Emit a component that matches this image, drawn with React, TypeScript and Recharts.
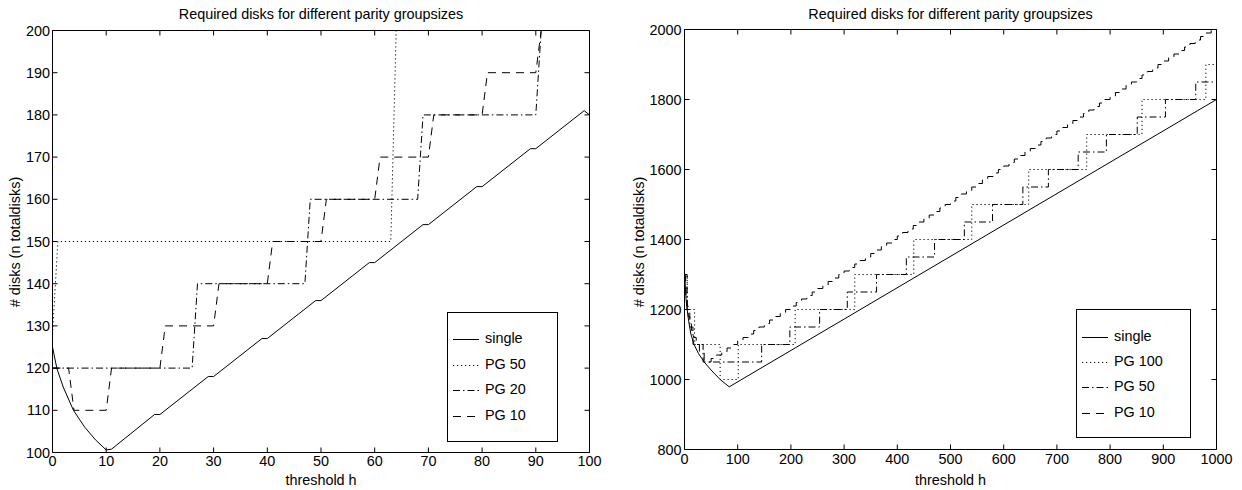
import { LineChart, Line, XAxis, YAxis } from "recharts";

const FONT = "'Liberation Sans', Arial, Helvetica, sans-serif";
const FS = 14.4;

const TITLE = "Required disks for different parity groupsizes";
const X_LABEL = "threshold h";
const Y_LABEL = "# disks (n totaldisks)";

// ---- left panel (h 0..100) ----
const leftXTicks = [0, 10, 20, 30, 40, 50, 60, 70, 80, 90, 100];
const leftYTicks = [100, 110, 120, 130, 140, 150, 160, 170, 180, 190, 200];

const leftSingleH = [0, 0.8, 2, 3.9, 6, 8, 10, 11, 19, 20, 29, 30, 39, 40, 49, 50, 59, 60, 69, 70, 79, 80, 89, 90, 99, 100];
const leftSingleN = [125, 120, 115.5, 110, 106, 103, 100.6, 100.8, 109, 109, 118, 118, 127, 127, 136, 136, 145, 145, 154, 154, 163, 163, 172, 172, 181, 180];

const leftPg50H = [0, 1, 63, 64, 100];
const leftPg50N = [128, 150, 150, 200, 200];

const leftPg20H = [0, 26, 27, 47, 48, 68, 69, 90, 91, 100];
const leftPg20N = [120, 120, 140, 140, 160, 160, 180, 180, 200, 200];

const leftPg10H = [0, 3, 4, 10, 11, 20, 21, 30, 31, 40, 41, 50, 51, 60, 61, 70, 71, 80, 81, 90, 91, 100];
const leftPg10N = [120, 120, 110, 110, 120, 120, 130, 130, 140, 140, 150, 150, 160, 160, 170, 170, 180, 180, 190, 190, 200, 200];

// ---- right panel (h 0..1000) ----
const rightXTicks = [0, 100, 200, 300, 400, 500, 600, 700, 800, 900, 1000];
const rightYTicks = [800, 1000, 1200, 1400, 1600, 1800, 2000];

const rightSingleH = [1, 2, 3, 5, 8, 12, 18, 26, 37, 50, 67, 84, 1000];
const rightSingleN = [1285, 1250, 1228, 1200, 1165, 1130, 1100, 1075, 1050, 1027, 1000, 979, 1800];

const rightPg100H = [0, 5, 19, 67, 101, 208, 320, 431, 540, 647, 756, 860, 980, 1000];
const rightPg100N = [1300, 1200, 1100, 1000, 1100, 1200, 1300, 1400, 1500, 1600, 1700, 1800, 1900, 1900];

const rightPg50H = [0, 5, 10, 16, 35, 145, 198, 254, 306, 361, 417, 470, 526, 579, 636, 684, 740, 793, 851, 904, 961, 1000];
const rightPg50N = [1300, 1200, 1150, 1100, 1050, 1100, 1150, 1200, 1250, 1300, 1350, 1400, 1450, 1500, 1550, 1600, 1650, 1700, 1750, 1800, 1850, 1850];

const rightPg10H = [
  0, 2, 3, 5, 7, 10, 13, 17, 22, 28, 37,
  50, 60, 70, 80, 90, 100, 110, 120, 130, 140, 150, 160, 170, 180, 190, 200,
  210, 220, 230, 240, 250, 260, 270, 280, 290, 300, 310, 320, 330, 340, 350,
  360, 370, 380, 390, 400, 410, 420, 430, 440, 450, 460, 470, 480, 490, 500,
  510, 520, 530, 540, 550, 560, 570, 580, 590, 600, 610, 620, 630, 640, 650,
  660, 670, 680, 690, 700, 710, 720, 730, 740, 750, 760, 770, 780, 790, 800,
  810, 820, 830, 840, 850, 860, 870, 880, 890, 900, 910, 920, 930, 940, 950,
  960, 970, 980, 990, 1000,
];
const rightPg10N = [
  1300, 1270, 1240, 1210, 1180, 1160, 1140, 1120, 1100, 1080, 1050,
  1060, 1070, 1080, 1090, 1100, 1110, 1120, 1130, 1140, 1150, 1160, 1170, 1180, 1190, 1200, 1210,
  1220, 1230, 1240, 1250, 1260, 1270, 1280, 1290, 1300, 1310, 1320, 1330, 1340, 1350, 1360,
  1370, 1380, 1390, 1400, 1410, 1420, 1430, 1440, 1450, 1460, 1470, 1480, 1490, 1500, 1510,
  1520, 1530, 1540, 1550, 1560, 1570, 1580, 1590, 1600, 1610, 1620, 1630, 1640, 1650, 1660,
  1670, 1680, 1690, 1700, 1710, 1720, 1730, 1740, 1750, 1760, 1770, 1780, 1790, 1800, 1810,
  1820, 1830, 1840, 1850, 1860, 1870, 1880, 1890, 1900, 1910, 1920, 1930, 1940, 1950, 1960,
  1970, 1980, 1990, 2000, 2000,
];

const DOTTED = "1.2 2.8";
const DASHDOT = "7 3 1.5 3";
const DASHED = "8 6";

type Pt = { h: number; n: number };
type Series = { name: string; data: Pt[]; dash?: string; step?: boolean };

const zip = (hs: number[], ns: number[]): Pt[] => hs.map((h, i) => ({ h, n: ns[i] }));

const leftSeries: Series[] = [
  { name: "single", data: zip(leftSingleH, leftSingleN) },
  { name: "PG 50", data: zip(leftPg50H, leftPg50N), dash: DOTTED },
  { name: "PG 20", data: zip(leftPg20H, leftPg20N), dash: DASHDOT },
  { name: "PG 10", data: zip(leftPg10H, leftPg10N), dash: DASHED },
];

const rightSeries: Series[] = [
  { name: "single", data: zip(rightSingleH, rightSingleN) },
  { name: "PG 100", data: zip(rightPg100H, rightPg100N), dash: DOTTED, step: true },
  { name: "PG 50", data: zip(rightPg50H, rightPg50N), dash: DASHDOT, step: true },
  { name: "PG 10", data: zip(rightPg10H, rightPg10N), dash: DASHED, step: true },
];

const black = { stroke: "#000", strokeWidth: 1 };
const tickText = { fill: "#000", fontSize: FS, fontFamily: FONT };

interface PanelProps {
  left: number;
  width: number;
  // plot box edges, relative to this panel
  box: { top: number; right: number; bottom: number; left: number };
  xDomain: [number, number];
  yDomain: [number, number];
  xTicks: number[];
  yTicks: number[];
  series: Series[];
  xTickMargin: number;
  yTickMargin: number;
}

// every axis takes 1px of room (a 0px axis is not drawn), so margins are 1px smaller
function Panel(p: PanelProps) {
  const margin = {
    top: p.box.top - 1,
    right: p.box.right - 1,
    bottom: p.box.bottom - 1,
    left: p.box.left - 1,
  };
  return (
    <div style={{ position: "absolute", left: p.left, top: 0 }}>
      <LineChart width={p.width} height={490} margin={margin}>
        <XAxis xAxisId="b" type="number" dataKey="h" domain={p.xDomain} ticks={p.xTicks} interval={0}
          height={1} tickSize={-5} tickMargin={p.xTickMargin} allowDataOverflow
          axisLine={black} tickLine={black} tick={tickText} />
        <XAxis xAxisId="t" orientation="top" type="number" dataKey="h" domain={p.xDomain} ticks={p.xTicks}
          interval={0} height={1} tickSize={-5} tickFormatter={() => ""} allowDataOverflow
          axisLine={black} tickLine={black} />
        <YAxis yAxisId="l" type="number" domain={p.yDomain} ticks={p.yTicks} interval={0}
          width={1} tickSize={-5} tickMargin={p.yTickMargin} allowDataOverflow
          axisLine={black} tickLine={black} tick={tickText} />
        <YAxis yAxisId="r" orientation="right" type="number" domain={p.yDomain} ticks={p.yTicks}
          interval={0} width={1} tickSize={-5} tickFormatter={() => ""} allowDataOverflow
          axisLine={black} tickLine={black} />
        {p.series.map((s) => (
          <Line key={s.name} xAxisId="b" yAxisId="l" data={s.data} dataKey="n" name={s.name}
            type={s.step ? "stepAfter" : "linear"} stroke="#000" strokeWidth={1}
            strokeDasharray={s.dash} dot={false} activeDot={false} isAnimationActive={false} />
        ))}
      </LineChart>
    </div>
  );
}

function LegendBox({ left, top, width, height, rows, series }: {
  left: number; top: number; width: number; height: number; rows: number[]; series: Series[];
}) {
  return (
    <div style={{ position: "absolute", left, top, width, height, boxSizing: "border-box",
      border: "1px solid #000", background: "#fff" }}>
      {series.map((s, i) => (
        <div key={s.name}>
          <svg style={{ position: "absolute", left: 5, top: rows[i] - 3 }} width={27} height={6}>
            <line x1={0} x2={26} y1={3.5} y2={3.5} stroke="#000" strokeWidth={1} strokeDasharray={s.dash} />
          </svg>
          <div style={{ position: "absolute", left: 37, top: rows[i] - 9.5, lineHeight: "16px",
            fontSize: FS, fontFamily: FONT, whiteSpace: "nowrap", color: "#000" }}>{s.name}</div>
        </div>
      ))}
    </div>
  );
}

const textStyle = { position: "absolute" as const, fontSize: FS, fontFamily: FONT, lineHeight: "16px",
  color: "#000", textAlign: "center" as const, whiteSpace: "nowrap" as const };

function Labels({ x0, x1, yMid, yLabelX }: { x0: number; x1: number; yMid: number; yLabelX: number }) {
  return (
    <>
      <div style={{ ...textStyle, left: x0, width: x1 - x0, top: 5.6 }}>{TITLE}</div>
      <div style={{ ...textStyle, left: x0, width: x1 - x0, top: 472 }}>{X_LABEL}</div>
      <div style={{ ...textStyle, left: yLabelX - 150, width: 300, top: yMid - 8, transform: "rotate(-90deg)" }}>
        {Y_LABEL}
      </div>
    </>
  );
}

export default function App() {
  return (
    <div style={{ position: "absolute", left: 0, top: 0, width: 1242, height: 490, background: "#fff", overflow: "hidden" }}>
      <Panel left={0} width={620} box={{ top: 30.5, right: 30.5, bottom: 37.5, left: 52.5 }}
        xDomain={[0, 100]} yDomain={[100, 200]} xTicks={leftXTicks} yTicks={leftYTicks}
        series={leftSeries} xTickMargin={8.5} yTickMargin={7.5} />
      <Panel left={620} width={622} box={{ top: 29.5, right: 25.5, bottom: 40.5, left: 64.5 }}
        xDomain={[0, 1000]} yDomain={[800, 2000]} xTicks={rightXTicks} yTicks={rightYTicks}
        series={rightSeries} xTickMargin={8.8} yTickMargin={8} />
      <Labels x0={52.5} x1={589.5} yMid={242} yLabelX={15} />
      <Labels x0={684.5} x1={1216.5} yMid={241.5} yLabelX={639} />
      <LegendBox left={447} top={312} width={111} height={130} rows={[26, 52, 77, 103]} series={leftSeries} />
      <LegendBox left={1076} top={309} width={115} height={129} rows={[27, 52, 77, 103]} series={rightSeries} />
    </div>
  );
}
